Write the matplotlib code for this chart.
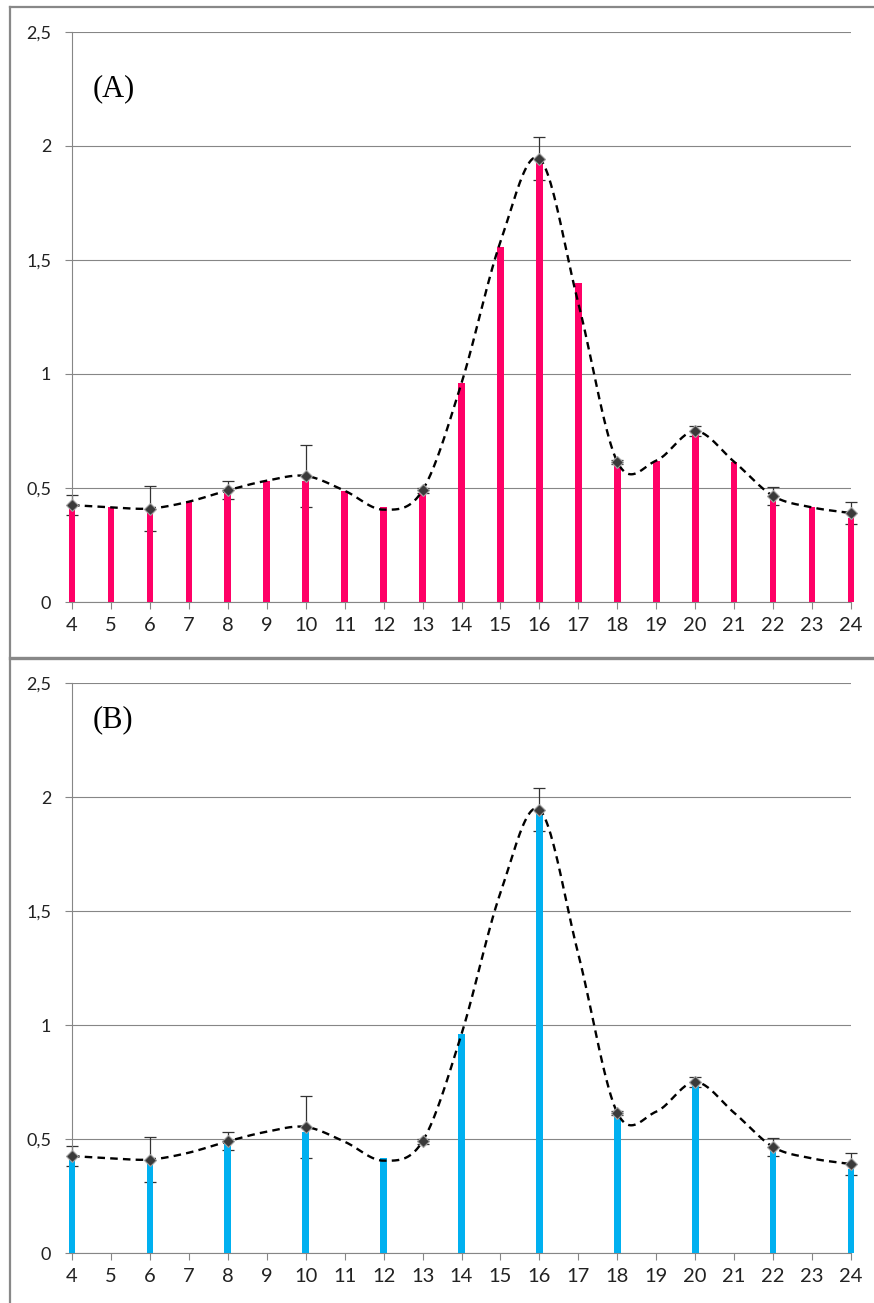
import numpy as np
import matplotlib
matplotlib.use("Agg")
import matplotlib.pyplot as plt
from matplotlib.lines import Line2D

# data
days = [4, 5, 6, 7, 8, 9, 10, 11, 12, 13, 14, 15, 16, 17, 18, 19, 20, 21, 22, 23, 24]
bars_a = [0.418, 0.417, 0.415, 0.44, 0.496, 0.53, 0.53, 0.488, 0.418, 0.495, 0.959,
          1.557, 1.947, 1.398, 0.615, 0.618, 0.75, 0.615, 0.465, 0.415, 0.367]
days_b = [4, 6, 8, 10, 12, 14, 16, 18, 20, 22, 24]
bars_b = [0.418, 0.415, 0.496, 0.53, 0.418, 0.959, 1.947, 0.615, 0.75, 0.465, 0.367]

# smoothed mean curve
curve = [0.425, 0.415, 0.41, 0.44, 0.49, 0.532, 0.553, 0.488, 0.405, 0.49, 0.96,
         1.58, 1.945, 1.31, 0.615, 0.62, 0.75, 0.615, 0.465, 0.415, 0.39]
mark_x = [4, 6, 8, 10, 13, 16, 18, 20, 22, 24]
mark_y = [0.425, 0.41, 0.49, 0.553, 0.49, 1.945, 0.615, 0.75, 0.465, 0.39]
mark_err = [0.045, 0.1, 0.04, 0.136, 0.01, 0.093, 0.01, 0.02, 0.04, 0.048]

yticks = [0, 0.5, 1, 1.5, 2, 2.5]
ytick_labels = ["0", "0,5", "1", "1,5", "2", "2,5"]


def smooth(xs, ys, n=24):
    xs = np.asarray(xs, float)
    ys = np.asarray(ys, float)
    m = np.zeros_like(ys)
    m[1:-1] = (ys[2:] - ys[:-2]) / (xs[2:] - xs[:-2])
    m[0] = (ys[1] - ys[0]) / (xs[1] - xs[0])
    m[-1] = (ys[-1] - ys[-2]) / (xs[-1] - xs[-2])
    ox, oy = [], []
    for i in range(len(xs) - 1):
        h = xs[i + 1] - xs[i]
        t = np.linspace(0, 1, n, endpoint=False)
        h00 = 2 * t**3 - 3 * t**2 + 1
        h10 = t**3 - 2 * t**2 + t
        h01 = -2 * t**3 + 3 * t**2
        h11 = t**3 - t**2
        ox.extend(xs[i] + t * h)
        oy.extend(h00 * ys[i] + h10 * h * m[i] + h01 * ys[i + 1] + h11 * h * m[i + 1])
    ox.append(xs[-1])
    oy.append(ys[-1])
    return np.array(ox), np.array(oy)


W, H = 874, 1303
fig = plt.figure(figsize=(W / 100, H / 100), dpi=100)
grey = "#868686"

def px(x0, y0, x1, y1):
    return [x0 / W, 1 - y1 / H, (x1 - x0) / W, (y1 - y0) / H]

ax_a = fig.add_axes(px(72, 32, 851, 602))
ax_b = fig.add_axes(px(72, 683, 851, 1253))

cx, cy = smooth(days, curve)

for ax, bx, by, color, label, ly in [
        (ax_a, days, bars_a, "#FF0066", "(A)", 0.90),
        (ax_b, days_b, bars_b, "#00B0F0", "(B)", 0.935)]:
    ax.set_xlim(4, 24)
    ax.set_ylim(0, 2.5)
    ax.set_yticks(yticks)
    ax.set_yticklabels(ytick_labels, fontsize=13, family="Lato", color="#222222")
    ax.set_xticks(days)
    ax.set_xticklabels([str(d) for d in days], fontsize=14.5, family="Lato",
                       color="#222222")
    ax.tick_params(axis="y", length=5, width=0.8, color=grey, pad=10)
    ax.tick_params(axis="x", length=5, width=0.8, color=grey, pad=6)
    ax.grid(axis="y", color=grey, lw=0.8)
    ax.set_axisbelow(True)
    for s in ["top", "right"]:
        ax.spines[s].set_visible(False)
    for s in ["left", "bottom"]:
        ax.spines[s].set_color(grey)
        ax.spines[s].set_linewidth(0.8)

    ax.errorbar(mark_x, mark_y, yerr=mark_err, fmt="none", ecolor="#333333",
                elinewidth=0.9, capsize=4, capthick=0.9, zorder=2, clip_on=False)
    ax.bar(bx, by, width=0.17, color=color, zorder=3, clip_on=False)
    ax.plot(cx, cy, color="black", lw=1.7, ls=(0, (3.2, 2.2)), zorder=4)
    ax.plot(mark_x, mark_y, ls="none", marker="D", ms=6, mfc="#3a3a3a",
            mec="#a0a0a0", mew=0.8, zorder=5, clip_on=False)
    ax.text(0.027, ly, label, transform=ax.transAxes, fontsize=22,
            family="Liberation Serif", va="center", ha="left")

# outer frame lines
fig.add_artist(Line2D([10 / W, 1], [1 - 7 / H, 1 - 7 / H], color="#888888", lw=1.6))
fig.add_artist(Line2D([10 / W, 1], [1 - 658 / H, 1 - 658 / H], color="#888888", lw=2.4))
fig.add_artist(Line2D([10 / W, 10 / W], [0, 1 - 7 / H], color="#888888", lw=1.6))

fig.savefig("out.png", dpi=100)
